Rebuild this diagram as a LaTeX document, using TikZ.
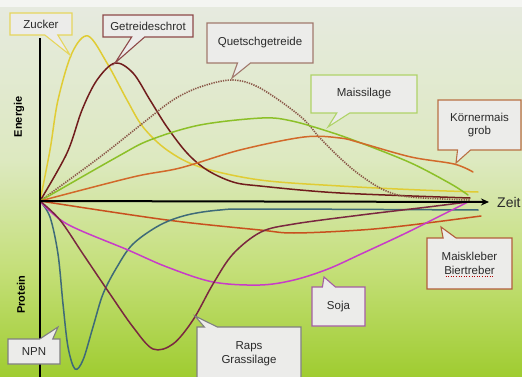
\documentclass[tikz,border=0pt]{standalone}
\usepackage{fontspec}
\setmainfont{Liberation Sans}
\usetikzlibrary{shapes.callouts,arrows.meta}
\definecolor{bgA}{HTML}{F4F5F2}
\definecolor{bgB}{HTML}{E6EADF}
\definecolor{bgC}{HTML}{DDE9C0}
\definecolor{bgD}{HTML}{C4DF78}
\definecolor{bgE}{HTML}{9FCC30}
\definecolor{boxfill}{HTML}{ECECEA}
\definecolor{txt}{HTML}{2A2A2A}
\definecolor{czuck}{HTML}{E0CC34}
\definecolor{cgetr}{HTML}{701C1C}
\definecolor{cquet}{HTML}{8A5848}
\definecolor{cmais}{HTML}{8CC028}
\definecolor{ckorn}{HTML}{D2692A}
\definecolor{ckleb}{HTML}{C8501E}
\definecolor{cnpn}{HTML}{3E6A78}
\definecolor{csoja}{HTML}{C83CC8}
\definecolor{craps}{HTML}{7A2840}
\begin{document}
\begin{tikzpicture}[x=1pt,y=-1pt,
  curve/.style={line width=1.5pt, line cap=round},
  callbox/.style={rectangle callout, draw=#1, fill=boxfill, line width=1.1pt,
    inner sep=1pt, align=center, text=txt, callout pointer width=13pt,
    font=\fontsize{11.5}{13.5}\selectfont},
  axlabel/.style={rotate=90, font=\bfseries\fontsize{11}{12}\selectfont, text=black}]
% background
\useasboundingbox (0,0) rectangle (522,377);
\fill[bgA] (0,0) rectangle (522,8);
\shade[top color=bgB, bottom color=bgC] (0,8) rectangle (522,160);
\shade[top color=bgC, bottom color=bgD] (0,160) rectangle (522,270);
\shade[top color=bgD, bottom color=bgE] (0,270) rectangle (522,377);
% energy curves
\draw[curve, czuck] plot[smooth, tension=0.55] coordinates {(40,201) (50,150) (58,100) (72,53) (88,36) (107,63) (127,100) (143,127) (167,150) (200,167) (260,180) (340,186) (420,190) (478,192)};
\draw[curve, cgetr] plot[smooth, tension=0.55] coordinates {(40,201) (67,153) (82,110) (97,80) (115,63) (133,73) (150,100) (167,127) (187,153) (207,170) (233,182) (260,186) (340,193) (470,198)};
\draw[curve, cquet, line width=1.6pt, dash pattern=on 1.3pt off 1.1pt, line cap=butt] plot[smooth, tension=0.55] coordinates {(40,201) (100,157) (143,123) (173,100) (200,87) (232,80) (260,88) (300,116) (320,138) (340,158) (360,175) (384,190) (410,197) (470,200)};
\draw[curve, cmais] plot[smooth, tension=0.55] coordinates {(40,201) (117,157) (150,140) (200,125) (262,118) (292,121) (330,132) (361,143) (411,163) (451,184) (468,195)};
\draw[curve, ckorn] plot[smooth, tension=0.55] coordinates {(40,201) (133,177) (180,168) (240,150) (304,137) (340,138) (361,143) (411,157) (454,164) (473,172)};
% protein curves
\draw[curve, ckleb] plot[smooth, tension=0.55] coordinates {(40,201) (167,220) (260,230) (294,233) (361,230) (411,225) (481,216)};
\draw[curve, cnpn] plot[smooth, tension=0.55] coordinates {(40,201) (50,217) (58,254) (63,304) (68,347) (75,369) (83,360) (93,327) (103,294) (117,267) (133,244) (160,225) (187,215) (220,210) (260,209) (478,210)};
\draw[curve, csoja] plot[smooth, tension=0.55] coordinates {(40,201) (67,224) (128,250) (167,267) (213,282) (260,285) (294,280) (328,269) (361,254) (404,234) (438,217) (468,202)};
\draw[curve, craps] plot[smooth, tension=0.55] coordinates {(40,201) (60,220) (83,254) (110,294) (133,327) (153,349) (173,344) (193,320) (213,284) (233,254) (261,232) (294,224) (361,215) (428,207) (468,202)};
% axes
\coordinate (yTop) at (40,38);
\coordinate (yBot) at (40,377);
\coordinate (org) at (40,201);
\node[anchor=west, inner sep=0pt, font=\fontsize{14}{16}\selectfont, text=txt] (zeit) at (497,202) {Zeit};
\draw[line width=2pt] (yTop) -- (yBot);
\draw[line width=2pt, -{Stealth[length=8pt,width=7pt]}] (org) -- ([xshift=-8pt]zeit.west);
\node[axlabel] (energie) at (19,117) {Energie};
\node[axlabel] (protein) at (21,295) {Protein};
% callouts
\node[callbox=czuck!80!white, minimum width=62pt, minimum height=22pt, callout absolute pointer={(70,55)}] (zucker) at (41,24) {Zucker};
\node[callbox=cgetr!80!white, minimum width=90pt, minimum height=22pt, callout absolute pointer={(115,63)}] (getr) at (148,26) {Getreideschrot};
\node[callbox=cquet!80!white, minimum width=106pt, minimum height=40pt, callout absolute pointer={(232,78)}] (quet) at (260,43) {Quetschgetreide};
\node[callbox=cmais!70!white, minimum width=106pt, minimum height=38pt, callout absolute pointer={(328,127)}] (mais) at (364,94) {Maissilage};
\node[callbox=ckorn!70!gray, minimum width=83pt, minimum height=50pt, callout absolute pointer={(456,163)}] (korn) at (479.5,125) {Körnermais\\grob};
\node[callbox=ckleb!70!gray, minimum width=85pt, minimum height=51pt, callout absolute pointer={(441,227)}] (kleb) at (469.5,263.5) {Maiskleber\\Biertreber};
\draw[red!70!black, line width=0.6pt, dotted] ([xshift=-24pt,yshift=-13pt]kleb.center) -- ([xshift=24pt,yshift=-13pt]kleb.center);
\node[callbox=csoja!50!gray, minimum width=53pt, minimum height=39pt, callout absolute pointer={(324,277)}] (soja) at (338.5,306.5) {Soja};
\node[callbox=gray, minimum width=104pt, minimum height=53pt, callout absolute pointer={(195,316)}] (raps) at (249,353.5) {Raps\\Grassilage};
\node[callbox=gray, minimum width=52pt, minimum height=25pt, callout absolute pointer={(58,327)}] (npn) at (34,351.5) {NPN};
\end{tikzpicture}
\end{document}
